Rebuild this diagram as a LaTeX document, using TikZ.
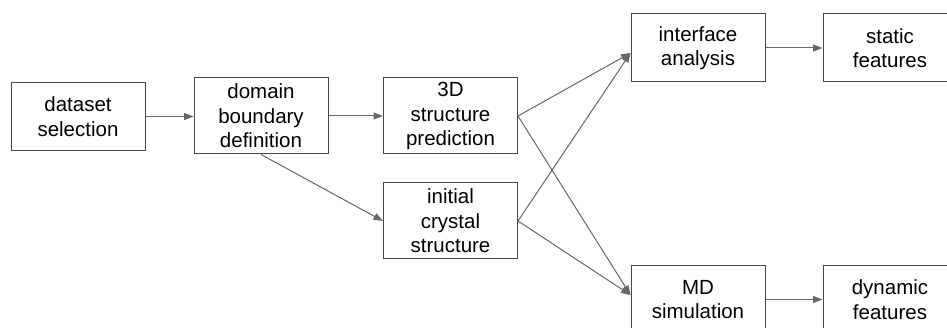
\documentclass[tikz,border=0pt]{standalone}
\usepackage{fontspec}
\setmainfont{Liberation Sans}
\usetikzlibrary{arrows.meta}
\definecolor{boxgray}{HTML}{474747}
\definecolor{arrgray}{HTML}{676767}
\begin{document}
\begin{tikzpicture}[x=1pt,y=-1pt,
  box/.style={draw=boxgray,line width=1pt,minimum width=134pt,minimum height=68pt,inner sep=0pt,align=center,font=\fontsize{20.5}{24.5}\selectfont,text=black},
  tall/.style={minimum height=76pt},
  arr/.style={draw=arrgray,line width=1pt,-{Triangle[length=9.5pt,width=7pt]}}]
\useasboundingbox (0,0) rectangle (947,328);
\clip (0,0) rectangle (947,328);
\node[box] (ds) at (78,116.5) {dataset\\selection};
\node[box,tall] (dom) at (261,116) {domain\\boundary\\definition};
\node[box,tall] (pred) at (450.5,116) {3D\\structure\\prediction};
\node[box,tall] (cry) at (450.5,221) {initial\\crystal\\structure};
\node[box] (ifa) at (698,48) {interface\\analysis};
\node[box] (sta) at (890,48) {static\\features};
\node[box] (md) at (698,299.5) {MD\\simulation};
\node[box] (dyn) at (890,299.5) {dynamic\\features};
\coordinate (ifain) at ([yshift=-5pt]ifa.west);
\coordinate (mdin) at ([yshift=4.5pt]md.west);
\draw[arr] (ds.east) -- (ds.east -| dom.west);
\draw[arr] (dom.east) -- (pred.west);
\draw[arr] (dom.south) -- (cry.west);
\draw[arr] (pred.east) -- (ifain);
\draw[arr] (cry.east) -- (ifain);
\draw[arr] (pred.east) -- (mdin);
\draw[arr] (cry.east) -- (mdin);
\draw[arr] (ifa.east) -- (sta.west);
\draw[arr] (md.east) -- (dyn.west);
\end{tikzpicture}
\end{document}
